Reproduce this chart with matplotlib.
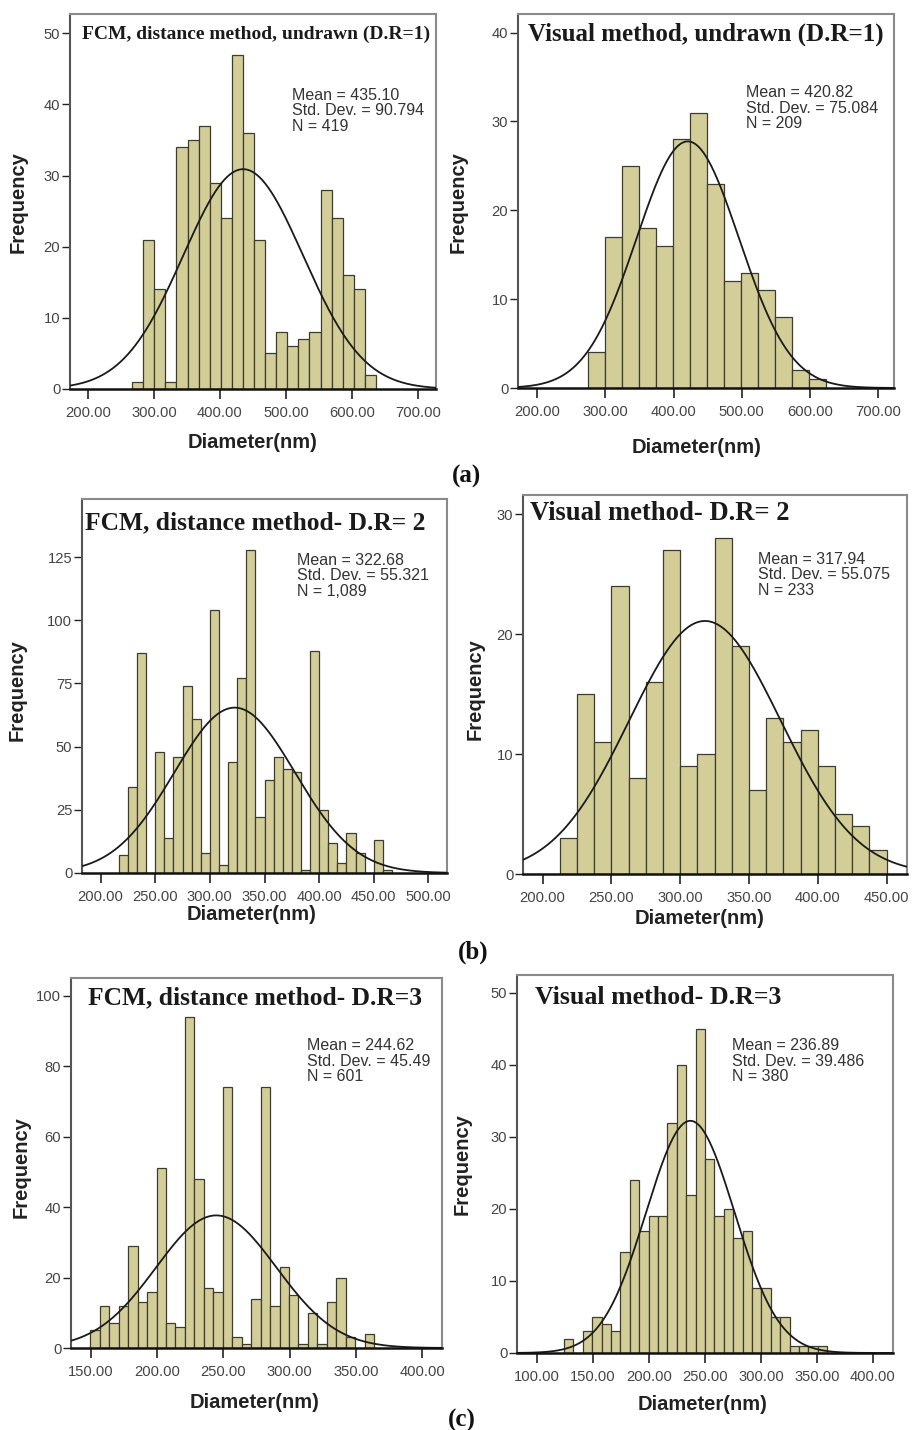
import matplotlib.pyplot as plt
import numpy as np

W, H = 913, 1430

# --- data ------------------------------------------------------------------
# (a) D.R = 1
fcm1_counts = [1, 21, 14, 1, 34, 35, 37, 29, 24, 47, 36, 21, 5, 8, 6, 7, 8, 28, 24, 16, 14, 2]
fcm1_bin_start, fcm1_bin_width = 267.0, 16.78
fcm1_stats = (435.10, 90.794, 419)

vis1_counts = [4, 17, 25, 18, 16, 28, 31, 23, 12, 13, 11, 8, 2, 1]
vis1_bin_start, vis1_bin_width = 274.0, 25.0
vis1_stats = (420.82, 75.084, 209)

# (b) D.R = 2
fcm2_counts = [7, 34, 87, 0, 48, 14, 46, 74, 61, 8, 104, 3, 44, 77, 128,
               22, 37, 46, 41, 40, 1, 88, 25, 12, 4, 16, 8, 0, 13, 1]
fcm2_bin_start, fcm2_bin_width = 216.7, 8.333
fcm2_stats = (322.68, 55.321, 1089)

vis2_counts = [3, 15, 11, 24, 8, 16, 27, 9, 10, 28, 19, 7, 13, 11, 12, 9, 5, 4, 2]
vis2_bin_start, vis2_bin_width = 212.5, 12.5
vis2_stats = (317.94, 55.075, 233)

# (c) D.R = 3
fcm3_counts = [5, 12, 7, 12, 29, 13, 16, 51, 7, 6, 94, 48, 17, 16, 74,
               3, 1, 14, 74, 12, 23, 15, 1, 10, 1, 13, 20, 3, 0, 4]
fcm3_bin_start, fcm3_bin_width = 149.6, 7.14
fcm3_stats = (244.62, 45.49, 601)

vis3_counts = [2, 0, 3, 5, 4, 3, 14, 24, 17, 19, 19, 32, 40, 22, 45,
               27, 19, 20, 16, 17, 9, 9, 5, 5, 1, 1, 1, 1]
vis3_bin_start, vis3_bin_width = 124.0, 8.4
vis3_stats = (236.89, 39.486, 380)

titles = [
    "FCM, distance method, undrawn (D.R=1)",
    "Visual method, undrawn (D.R=1)",
    "FCM, distance method- D.R= 2",
    "Visual method- D.R= 2",
    "FCM, distance method- D.R=3",
    "Visual method- D.R=3",
]
xticks = [
    [200, 300, 400, 500, 600, 700],
    [200, 300, 400, 500, 600, 700],
    [200, 250, 300, 350, 400, 450, 500],
    [200, 250, 300, 350, 400, 450],
    [150, 200, 250, 300, 350, 400],
    [100, 150, 200, 250, 300, 350, 400],
]
yticks = [
    [0, 10, 20, 30, 40, 50],
    [0, 10, 20, 30, 40],
    [0, 25, 50, 75, 100, 125],
    [0, 10, 20, 30],
    [0, 20, 40, 60, 80, 100],
    [0, 10, 20, 30, 40, 50],
]
panel_letters = ["(a)", "(b)", "(c)"]

# --- layout (pixel boxes of each plot frame: left, top, right, bottom) -----
boxes = [(70, 14, 436, 389), (518, 14, 894, 388),
         (82, 499, 447, 873), (523, 495, 907, 874),
         (71, 978, 442, 1348), (517, 975, 893, 1353)]
xlims = [(173, 727), (172, 723), (183, 517), (185.7, 464.8), (135, 415), (82, 418)]
ylims = [52.7, 42.1, 148, 31.6, 105, 52.5]
title_pos = [(0.033, 0.947, 14), (0.027, 0.947, 18), (0.008, 0.936, 18.4),
             (0.018, 0.95, 19.2), (0.046, 0.946, 18.4), (0.048, 0.94, 18.6)]
stats_pos = [(0.607, 0.803), (0.606, 0.81), (0.589, 0.856),
             (0.612, 0.85), (0.636, 0.838), (0.572, 0.833)]
xlabel_pos = [(253, 442), (697, 447), (252, 915), (700, 918), (255, 1403), (703, 1405)]
ylabel_pos = [(18, 202), (458, 202), (17, 690), (475, 689), (21, 1167), (462, 1164)]
letter_pos = [(466, 476), (473, 952), (462, 1420)]

BAR = "#d3ce97"
SERIF = "Liberation Serif"
SANS = "Liberation Sans"

panels = [
    (fcm1_counts, fcm1_bin_start, fcm1_bin_width, fcm1_stats),
    (vis1_counts, vis1_bin_start, vis1_bin_width, vis1_stats),
    (fcm2_counts, fcm2_bin_start, fcm2_bin_width, fcm2_stats),
    (vis2_counts, vis2_bin_start, vis2_bin_width, vis2_stats),
    (fcm3_counts, fcm3_bin_start, fcm3_bin_width, fcm3_stats),
    (vis3_counts, vis3_bin_start, vis3_bin_width, vis3_stats),
]

fig = plt.figure(figsize=(W / 100, H / 100), dpi=100)
fig.patch.set_facecolor("white")


def fmt_n(n):
    return f"{n:,}"


for i, (counts, start, width, (mean, sd, n)) in enumerate(panels):
    l, t, r, b = boxes[i]
    ax = fig.add_axes([l / W, 1 - b / H, (r - l) / W, (b - t) / H])
    edges = start + width * np.arange(len(counts))
    ax.bar(edges, counts, width=width, align="edge", color=BAR,
           edgecolor="#3c3c32", linewidth=0.9, zorder=2)

    # fitted normal curve, scaled to counts
    xs = np.linspace(*xlims[i], 400)
    ys = n * width * np.exp(-0.5 * ((xs - mean) / sd) ** 2) / (sd * np.sqrt(2 * np.pi))
    ax.plot(xs, ys, color="#1a1a1a", lw=1.3, zorder=3)

    ax.set_xlim(*xlims[i])
    ax.set_ylim(0, ylims[i])
    ax.set_xticks(xticks[i])
    ax.set_xticklabels([f"{v:.2f}" for v in xticks[i]])
    ax.set_yticks(yticks[i])
    ax.set_yticklabels([str(v) for v in yticks[i]])
    ax.tick_params(axis="x", direction="out", length=7, width=1.2, color="#222",
                   labelsize=10.6, labelcolor="#444", pad=5)
    ax.tick_params(axis="y", direction="out", length=6, width=1.0, color="#222",
                   labelsize=10.6, labelcolor="#444", pad=1)
    for lab in ax.get_xticklabels() + ax.get_yticklabels():
        lab.set_family(SANS)
    for side in ("top", "right"):
        ax.spines[side].set_color("#8a8a8a")
        ax.spines[side].set_linewidth(1.5)
    ax.spines["left"].set_color("#555")
    ax.spines["left"].set_linewidth(1.5)
    ax.spines["bottom"].set_color("#111")
    ax.spines["bottom"].set_linewidth(1.8)
    ax.spines["bottom"].set_zorder(4)

    tx, ty, ts = title_pos[i]
    ax.text(tx, ty, titles[i], transform=ax.transAxes, ha="left", va="center",
            family=SERIF, weight="bold", fontsize=ts, color="#1a1a1a")
    sx, sy = stats_pos[i]
    ax.text(sx, sy, f"Mean = {mean:.2f}\nStd. Dev. = {sd}\nN = {fmt_n(n)}",
            transform=ax.transAxes, ha="left", va="top", family=SANS,
            fontsize=11.5, color="#333", linespacing=1.05)

    lx, ly = xlabel_pos[i]
    fig.text(lx / W, 1 - ly / H, "Diameter(nm)", ha="center", va="center",
             family=SANS, weight="bold", fontsize=14.5, color="#222")
    yx, yy = ylabel_pos[i]
    fig.text(yx / W, 1 - yy / H, "Frequency", ha="center", va="center",
             rotation=90, family=SANS, weight="bold", fontsize=14.5, color="#222")

for letter, (px, py) in zip(panel_letters, letter_pos):
    fig.text(px / W, 1 - py / H, letter, ha="center", va="center",
             family=SERIF, weight="bold", fontsize=18, color="#111")

fig.savefig("out.png", dpi=100, facecolor="white")
